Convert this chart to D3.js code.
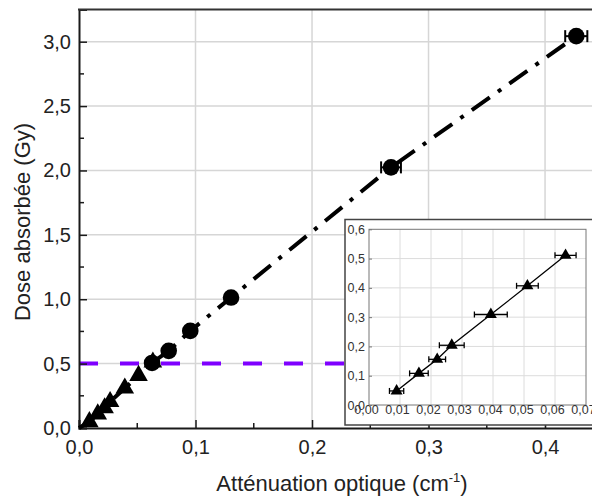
<!DOCTYPE html>
<html>
<head>
<meta charset="utf-8">
<script src="https://cdn.jsdelivr.net/npm/d3@7"></script>
<style>
html,body{margin:0;padding:0;background:#fff;}
svg{display:block;font-family:"Liberation Sans",Arial,sans-serif;}
</style>
</head>
<body>
<svg id="chart" width="592" height="500"></svg>
<script>
// ---- data ----
const triX   = [0.0089, 0.0161, 0.0220, 0.0267, 0.0393, 0.0511, 0.0634];
const triY   = [0.048, 0.108, 0.156, 0.204, 0.309, 0.407, 0.511];
const triErr = [0.0023, 0.0030, 0.0027, 0.0040, 0.0053, 0.0035, 0.0034];
const circX   = [0.0627, 0.0770, 0.0955, 0.1305, 0.2678, 0.4268];
const circY   = [0.505, 0.599, 0.754, 1.013, 2.024, 3.043];
const circErr = [0.002, 0.002, 0.003, 0.003, 0.0085, 0.0095];
const thresholdDose = 0.5;
const mainXTicks = [0, 0.1, 0.2, 0.3, 0.4];
const mainYTicks = [0, 0.5, 1.0, 1.5, 2.0, 2.5, 3.0];
const insetXTicks = [0, 0.01, 0.02, 0.03, 0.04, 0.05, 0.06, 0.07];
const insetYTicks = [0, 0.1, 0.2, 0.3, 0.4, 0.5, 0.6];
const xLabel = "Atténuation optique (cm";
const yLabel = "Dose absorbée (Gy)";

const fmt1 = d => d3.format(".1f")(d).replace(".", ",");
const fmt2 = d => d3.format(".2f")(d).replace(".", ",");

const svg = d3.select("#chart");

// ---- main scales ----
const x = d3.scaleLinear().domain([0, 0.45]).range([79, 603.3]);
const y = d3.scaleLinear().domain([0, 3.25]).range([428, 9.5]);

const grid = svg.append("g");
grid.selectAll("line.vx").data(mainXTicks.slice(1)).join("line")
  .attr("x1", d => x(d)).attr("x2", d => x(d)).attr("y1", y(0)).attr("y2", y(3.25))
  .attr("stroke", "#d6d6d6").attr("stroke-width", 1.5);
grid.selectAll("line.hy").data(mainYTicks.slice(1)).join("line")
  .attr("x1", x(0)).attr("x2", 603).attr("y1", d => y(d)).attr("y2", d => y(d))
  .attr("stroke", "#d6d6d6").attr("stroke-width", 1.5);

// threshold purple dashed
svg.append("line")
  .attr("x1", x(0)).attr("x2", 345).attr("y1", y(thresholdDose)).attr("y2", y(thresholdDose))
  .attr("stroke", "#7f00ff").attr("stroke-width", 4).attr("stroke-dasharray", "19,22");

// axes
const xAxis = d3.axisBottom(x).tickValues(mainXTicks).tickFormat(fmt1).tickSize(-8).tickPadding(12);
const yAxis = d3.axisLeft(y).tickValues(mainYTicks).tickFormat(fmt1).tickSize(-8).tickPadding(8);
const gx = svg.append("g").attr("transform", `translate(0,${y(0)})`).call(xAxis);
const gy = svg.append("g").attr("transform", `translate(${x(0)},0)`).call(yAxis);
[gx, gy].forEach(g => {
  g.select(".domain").attr("stroke", "#1a1a1a").attr("stroke-width", 2);
  g.selectAll(".tick line").attr("stroke", "#1a1a1a").attr("stroke-width", 1.5);
  g.selectAll(".tick text").attr("fill", "#222").style("font-size", "20px").style("font-family", "Liberation Sans, Arial, sans-serif");
});
// minor ticks
const minorX = [0.05, 0.15, 0.25, 0.35, 0.45];
svg.append("g").selectAll("line").data(minorX).join("line")
  .attr("x1", d => x(d)).attr("x2", d => x(d)).attr("y1", y(0)).attr("y2", y(0) - 5)
  .attr("stroke", "#1a1a1a").attr("stroke-width", 1.5);
const minorY = [0.25, 0.75, 1.25, 1.75, 2.25, 2.75];
svg.append("g").selectAll("line").data(minorY).join("line")
  .attr("x1", x(0)).attr("x2", x(0) + 5).attr("y1", d => y(d)).attr("y2", d => y(d))
  .attr("stroke", "#1a1a1a").attr("stroke-width", 1.5);
// top border
svg.append("line").attr("x1", x(0) - 1).attr("x2", 600).attr("y1", y(3.25)).attr("y2", y(3.25))
  .attr("stroke", "#333").attr("stroke-width", 2);

// dash-dot line through all points
const allPts = triX.map((d, i) => [d, triY[i]]).concat(circX.map((d, i) => [d, circY[i]]))
  .sort((a, b) => a[0] - b[0]);
const linePts = [[0, 0]].concat(allPts);
svg.append("path").datum(linePts)
  .attr("d", d3.line().x(d => x(d[0])).y(d => y(d[1])))
  .attr("fill", "none").attr("stroke", "#000").attr("stroke-width", 4)
  .attr("stroke-dasharray", "22,10,4,10");

// error bars for circles
const eb = svg.append("g").attr("stroke", "#000").attr("stroke-width", 2);
circX.forEach((cx, i) => {
  const e = circErr[i];
  eb.append("line").attr("x1", x(cx - e)).attr("x2", x(cx + e)).attr("y1", y(circY[i])).attr("y2", y(circY[i]));
  [cx - e, cx + e].forEach(v => eb.append("line").attr("x1", x(v)).attr("x2", x(v))
    .attr("y1", y(circY[i]) - 6).attr("y2", y(circY[i]) + 6));
});
// triangles main
svg.append("g").selectAll("path").data(triX).join("path")
  .attr("d", d3.symbol().type(d3.symbolTriangle).size(150))
  .attr("transform", (d, i) => `translate(${x(d)},${y(triY[i])})`)
  .attr("fill", "#000");
// circles
svg.append("g").selectAll("circle").data(circX).join("circle")
  .attr("cx", d => x(d)).attr("cy", (d, i) => y(circY[i])).attr("r", 8.3).attr("fill", "#000");

// axis labels
svg.append("text")
  .attr("transform", `translate(${22},${y(1.6)}) rotate(-90)`).attr("x", 0).attr("y", 8)
  .attr("text-anchor", "middle").style("font-size", "22px").attr("fill", "#222").text(yLabel);
const xl = svg.append("text").attr("x", 342).attr("y", 491).attr("text-anchor", "middle")
  .style("font-size", "22px").attr("fill", "#222");
xl.append("tspan").text(xLabel);
xl.append("tspan").attr("dy", -9).style("font-size", "13px").text("-1");
xl.append("tspan").attr("dy", 9).text(")");

// ---- inset ----
const inset = svg.append("g");
inset.append("rect").attr("x", 345).attr("y", 219.5).attr("width", 260).attr("height", 205.5)
  .attr("fill", "#fff").attr("stroke", "#444").attr("stroke-width", 1.5);
const ix = d3.scaleLinear().domain([0, 0.07]).range([369, 586]);
const iy = d3.scaleLinear().domain([0, 0.6]).range([405, 229.3]);
inset.selectAll("line.gx").data(insetXTicks.slice(1, -1)).join("line")
  .attr("x1", d => ix(d)).attr("x2", d => ix(d)).attr("y1", iy(0)).attr("y2", iy(0.6))
  .attr("stroke", "#dcdcdc").attr("stroke-width", 1);
inset.selectAll("line.gy").data(insetYTicks.slice(1, -1)).join("line")
  .attr("x1", ix(0)).attr("x2", ix(0.07)).attr("y1", d => iy(d)).attr("y2", d => iy(d))
  .attr("stroke", "#dcdcdc").attr("stroke-width", 1);
inset.append("rect").attr("x", ix(0)).attr("y", iy(0.6)).attr("width", ix(0.07) - ix(0))
  .attr("height", iy(0) - iy(0.6)).attr("fill", "none").attr("stroke", "#777").attr("stroke-width", 1);
const ixAxis = d3.axisBottom(ix).tickValues(insetXTicks).tickFormat(fmt2).tickSize(0).tickPadding(0);
const iyAxis = d3.axisLeft(iy).tickValues(insetYTicks).tickFormat(fmt1).tickSize(-3).tickPadding(4);
const igx = inset.append("g").attr("transform", `translate(0,${iy(0)})`).call(ixAxis);
const igy = inset.append("g").attr("transform", `translate(${ix(0)},0)`).call(iyAxis);
[igx, igy].forEach(g => {
  g.select(".domain").remove();
  g.selectAll(".tick line").attr("stroke", "#777");
  g.selectAll(".tick text").attr("fill", "#333").style("font-size", "12.5px").style("font-family", "Liberation Sans, Arial, sans-serif");
});
igx.selectAll(".tick text").attr("dx", -3);
// inset line
inset.append("path").datum(triX.map((d, i) => [d, triY[i]]))
  .attr("d", d3.line().x(d => ix(d[0])).y(d => iy(d[1])))
  .attr("fill", "none").attr("stroke", "#000").attr("stroke-width", 1.3);
// inset error bars
const ieb = inset.append("g").attr("stroke", "#000").attr("stroke-width", 1.3);
triX.forEach((tx, i) => {
  const e = triErr[i];
  ieb.append("line").attr("x1", ix(tx - e)).attr("x2", ix(tx + e)).attr("y1", iy(triY[i])).attr("y2", iy(triY[i]));
  [tx - e, tx + e].forEach(v => ieb.append("line").attr("x1", ix(v)).attr("x2", ix(v))
    .attr("y1", iy(triY[i]) - 3).attr("y2", iy(triY[i]) + 3));
});
inset.append("g").selectAll("path").data(triX).join("path")
  .attr("d", d3.symbol().type(d3.symbolTriangle).size(62))
  .attr("transform", (d, i) => `translate(${ix(d)},${iy(triY[i])})`)
  .attr("fill", "#000");
</script>
</body>
</html>
